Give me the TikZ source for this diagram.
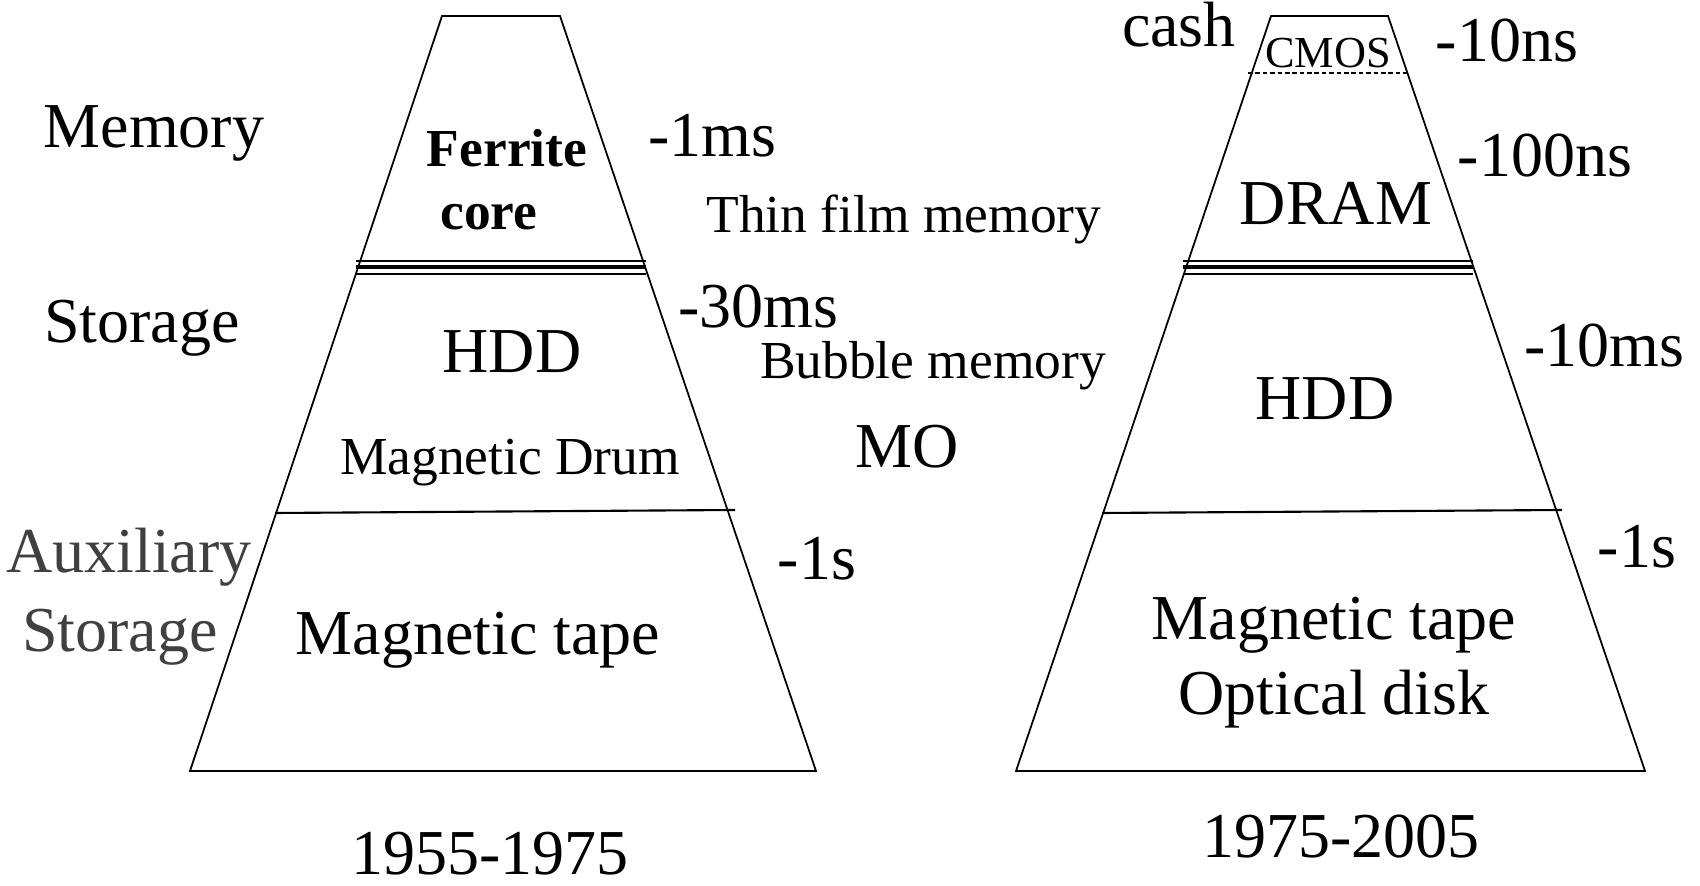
\documentclass[tikz,border=0pt]{standalone}
\usepackage{fontspec}
\setmainfont{Liberation Serif}
\begin{document}
\begin{tikzpicture}[x=0.01cm, y=-0.01cm, line width=0.5pt, big/.style = {anchor=base}]
                \tikzstyle{big} = [anchor=base, font=\fontsize{18.2}{21}\selectfont]
                \tikzstyle{small} = [anchor=base, font=\fontsize{15.2}{18}\selectfont]
                \tikzstyle{tiny} = [anchor=base, font=\fontsize{12.6}{14}\selectfont]
                \tikzstyle{side} = [big, text=black!75]

                \useasboundingbox (0,0) rectangle (1700,886);

                % Pyramid corners (left: 1955-1975, right: 1975-2005)
                \coordinate (a1) at (442,16);
                \coordinate (a2) at (560,16);
                \coordinate (a3) at (816,771);
                \coordinate (a4) at (190,771);
                \coordinate (b1) at (1271,16);
                \coordinate (b2) at (1388,16);
                \coordinate (b3) at (1645,771);
                \coordinate (b4) at (1016,771);

                \draw (a1) -- (a2) -- (a3) -- (a4) -- cycle;
                \draw (b1) -- (b2) -- (b3) -- (b4) -- cycle;

                % Level borders
                \draw[line width=0.7pt] (356,261) -- (646,261);
                \draw[line width=1.1pt] (356,267) -- (646,267);
                \draw[line width=0.6pt] (356,274) -- (646,274);
                \draw[line width=0.6pt] (275,513) -- (735,510);

                \draw[line width=0.6pt, dash pattern=on 1.3pt off 0.8pt] (1248,73) -- (1408,73);
                \draw[line width=0.7pt] (1183,261) -- (1473,261);
                \draw[line width=1.1pt] (1183,267) -- (1473,267);
                \draw[line width=0.6pt] (1183,274) -- (1473,274);
                \draw[line width=0.6pt] (1102,513) -- (1562,510);

                % Row labels (left)
                \node[big] (k1) at (154,148) {Memory};
                \node[big] (k2) at (142,343) {Storage};
                \node[side] (k3) at (129,573) {Auxiliary};
                \node[side] (k4) at (120,652) {Storage};

                % Left pyramid
                \node[small, font=\fontsize{15.2}{18}\selectfont\bfseries] (l1) at (507,167) {Ferrite};
                \node[small, font=\fontsize{15.2}{18}\selectfont\bfseries] (l2) at (489,230) {core};
                \node[big] (l3) at (512,373) {HDD};
                \node[small] (l4) at (510,475) {Magnetic Drum};
                \node[big] (l5) at (478,655) {Magnetic tape};
                \node[big] (l6) at (490,875) {1955-1975};

                % Access times and other devices (left)
                \node[big] (t1) at (712,157) {-1ms};
                \node[big] (t2) at (758,328) {-30ms};
                \node[big] (t3) at (817,580) {-1s};
                \node[small] (n1) at (904,233) {Thin film memory};
                \node[small] (n2) at (933,379) {Bubble memory};
                \node[big] (n3) at (907,468) {MO};

                % Right pyramid
                \node[big] (r0) at (1179,47) {cash};
                \node[tiny] (r1) at (1328,68) {CMOS};
                \node[big] (r2) at (1336,225) {DRAM};
                \node[big] (r3) at (1325,420) {HDD};
                \node[big] (r4) at (1334,640) {Magnetic tape};
                \node[big] (r5) at (1334,715) {Optical disk};
                \node[big] (r6) at (1341,858) {1975-2005};

                % Access times (right)
                \node[big] (u1) at (1507,62) {-10ns};
                \node[big] (u2) at (1545,177) {-100ns};
                \node[big] (u3) at (1604,367) {-10ms};
                \node[big] (u4) at (1637,568) {-1s};
            \end{tikzpicture}
\end{document}
